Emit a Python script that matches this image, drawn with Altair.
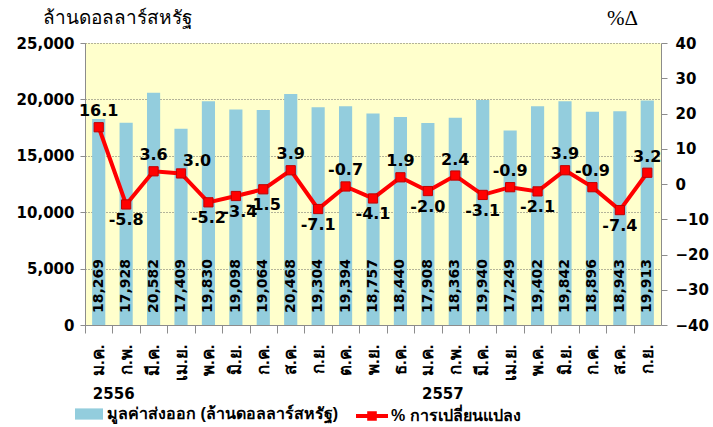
import altair as alt
import pandas as pd

months = ["ม.ค.", "ก.พ.", "มี.ค.", "เม.ย.", "พ.ค.", "มิ.ย.", "ก.ค.", "ส.ค.", "ก.ย.", "ต.ค.", "พ.ย.", "ธ.ค.",
          "ม.ค.", "ก.พ.", "มี.ค.", "เม.ย.", "พ.ค.", "มิ.ย.", "ก.ค.", "ส.ค.", "ก.ย."]
years = ["2556"] * 12 + ["2557"] * 9
export_value = [18269, 17928, 20582, 17409, 19830, 19098, 19064, 20468, 19304, 19394, 18757, 18440,
                17908, 18363, 19940, 17249, 19402, 19842, 18896, 18943, 19913]
pct_change = [16.1, -5.8, 3.6, 3.0, -5.2, -3.4, -1.5, 3.9, -7.1, -0.7, -4.1, 1.9,
              -2.0, 2.4, -3.1, -0.9, -2.1, 3.9, -0.9, -7.4, 3.2]
label_side = ["above", "below", "above", "aboveright", "below", "belowright", "below", "above", "below",
              "above", "below", "above", "below", "above", "below", "above", "below", "above", "above",
              "below", "above"]
bar_name = "มูลค่าส่งออก (ล้านดอลลาร์สหรัฐ)"
line_name = "% การเปลี่ยนแปลง"

keys = [f"{m}|{y}" for m, y in zip(months, years)]
df = pd.DataFrame({
    "key": keys,
    "value": export_value,
    "pct": pct_change,
    "side": label_side,
    "bar_series": bar_name,
    "line_series": line_name,
})
df["value_label"] = [f"{v:,}" for v in export_value]
df["pct_label"] = [f"{p:.1f}" for p in pct_change]

year_rows = []
seen = set()
for k, y in zip(keys, years):
    if y not in seen:
        seen.add(y)
        year_rows.append({"key": k, "year": y})
year_df = pd.DataFrame(year_rows)

FONT = "DejaVu Sans"
W, H = 576, 282
step = W / len(months)
GRAY = "#8c8c8c"

x_axis = alt.Axis(
    title=None, labelExpr="split(datum.value, '|')[0]", labelAngle=270,
    labelAlign="right", labelBaseline="middle", labelFontWeight="bold",
    labelFontSize=17, labelColor="black", labelPadding=11, tickOffset=-step / 2,
    labelOffset=step / 2, tickSize=8, tickColor=GRAY, domainColor=GRAY, grid=False,
    labelOverlap=False, labelLimit=200,
)
x_enc = alt.X("key:N", sort=keys, axis=x_axis,
              scale=alt.Scale(paddingInner=0.52, paddingOuter=0.26))

bars = alt.Chart(df).mark_bar(color="#93CDDD").encode(
    x=x_enc,
    y=alt.Y("value:Q", scale=alt.Scale(domain=[0, 25000]),
            axis=alt.Axis(values=[0, 5000, 10000, 15000, 20000, 25000], format=",.0f",
                          title="ล้านดอลลาร์สหรัฐ", titleAngle=0, titleX=32, titleY=-26,
                          titleAlign="center", titleBaseline="middle", titleFontWeight="normal",
                          titleFontSize=19, titleColor="black", labelOverlap=False,
                          labelFont=FONT, labelFontWeight="bold", labelFontSize=15, labelColor="black",
                          grid=True, gridDash=[1, 2], gridColor="#666", domainColor=GRAY,
                          tickColor=GRAY, tickSize=5, labelPadding=6)),
    color=alt.Color("bar_series:N", scale=alt.Scale(range=["#93CDDD"]),
                    legend=alt.Legend(orient="none", legendX=-10, legendY=357, title=None,
                                      symbolType="M-1,-0.4H1V0.4H-1Z", symbolSize=784,
                                      symbolStrokeWidth=0, labelFontSize=16, labelFontWeight="bold",
                                      labelColor="black", padding=0, labelOffset=4, labelLimit=400)),
)

bar_text = alt.Chart(df).mark_text(angle=270, align="left", baseline="middle", font=FONT,
                                   fontWeight="bold", fontSize=14, color="black").encode(
    x=alt.X("key:N", sort=keys), y=alt.value(H - 12), text="value_label:N")

year_text = alt.Chart(year_df).mark_text(baseline="top", font=FONT, fontWeight="bold",
                                         fontSize=15, color="black", dx=15).encode(
    x=alt.X("key:N", sort=keys), y=alt.value(H + 62), text="year:N")

left = alt.layer(bars, bar_text, year_text)

right_axis = alt.Axis(orient="right", values=list(range(-40, 41, 10)), title="%Δ",
                      titleAngle=0, titleX=-39, titleY=-25, titleAlign="center",
                      titleBaseline="middle", titleFont="Liberation Serif",
                      titleFontWeight="normal", titleFontSize=21, titleColor="black",
                      labelFont=FONT, labelFontWeight="bold", labelFontSize=15,
                      labelColor="black", grid=False, domainColor=GRAY, tickColor=GRAY,
                      tickSize=6, labelPadding=8, labelOverlap=False, tickCount=9)
y_right = alt.Y("pct:Q", scale=alt.Scale(domain=[-40, 40]), axis=right_axis)

line = alt.Chart(df).mark_line(color="#FF0000", strokeWidth=4).encode(
    x=alt.X("key:N", sort=keys), y=y_right)

points = alt.Chart(df).mark_point(shape="square", filled=True, size=85, stroke="#C00000",
                                  strokeWidth=1, opacity=1).encode(
    x=alt.X("key:N", sort=keys), y=y_right,
    color=alt.Color("line_series:N", scale=alt.Scale(range=["#FF0000"]),
                    legend=alt.Legend(orient="none", legendX=271, legendY=357, title=None,
                                      symbolType="M-1,-0.12H1V0.12H-1Z M-0.3,-0.3H0.3V0.3H-0.3Z",
                                      symbolSize=1024, symbolStrokeWidth=0, labelFontSize=16,
                                      labelFontWeight="bold", labelColor="black", padding=0,
                                      labelOffset=3, labelLimit=400)),
)

offsets = {"above": (0, -16), "below": (0, 16), "aboveright": (16, -12), "belowright": (4, 16)}
label_layers = []
for side, (dx, dy) in offsets.items():
    label_layers.append(
        alt.Chart(df).transform_filter(alt.datum.side == side).mark_text(
            font=FONT, fontWeight="bold", fontSize=16, color="black", dx=dx, dy=dy,
            baseline="middle", align="center").encode(
            x=alt.X("key:N", sort=keys), y=y_right, text="pct_label:N"))

right = alt.layer(line, points, *label_layers)

chart = alt.layer(left, right).resolve_scale(y="independent", color="independent").properties(
    width=W, height=H,
    autosize=alt.AutoSizeParams(type="none"),
    padding={"left": 85, "top": 43, "right": 713 - 85 - W, "bottom": 427 - 43 - H},
    background="white",
).configure_view(fill="#FFFFCC", stroke=None)

chart.save("out.html", embed_options={"renderer": "svg", "actions": False})
